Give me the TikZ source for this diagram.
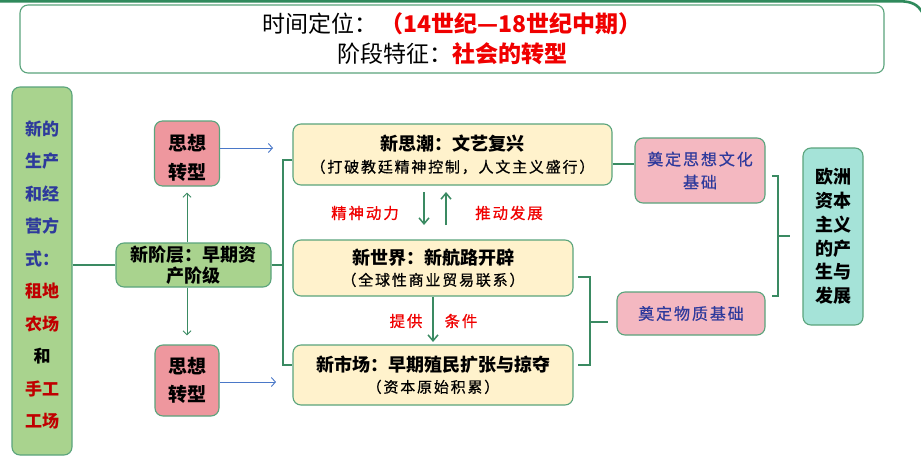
\documentclass[tikz,border=0pt]{standalone}
\usepackage{fontspec}
\setmainfont{Noto Sans CJK SC}
\newfontfamily\kai{Noto Sans CJK SC}[LetterSpace=12,FakeBold=0.6]
\usetikzlibrary{arrows.meta,calc}
\definecolor{framegreen}{HTML}{2F8A5C}
\definecolor{bordergreen}{HTML}{5AA47C}
\definecolor{linegreen}{HTML}{3A8A62}
\definecolor{lgreen}{HTML}{A9D38E}
\definecolor{pinka}{HTML}{EE979E}
\definecolor{pinkb}{HTML}{F4B8C1}
\definecolor{lyellow}{HTML}{FFF2CC}
\definecolor{lteal}{HTML}{A5E3D8}
\definecolor{tblue}{HTML}{2E3A9C}
\definecolor{dred}{HTML}{C00000}
\definecolor{hred}{HTML}{F00000}
\definecolor{ablue}{HTML}{4A78C8}
\begin{document}
\begin{tikzpicture}[x=1pt,y=-1pt,
  box/.style={draw=bordergreen, line width=1.1pt, rounded corners=8pt, inner sep=0pt, align=center},
  conn/.style={draw=linegreen, line width=1.8pt},
  garrow/.style={draw=linegreen, line width=1.5pt, -{Straight Barb[length=6pt,width=10pt,line width=1.5pt]}},
  smarrow/.style={draw=linegreen, line width=1pt, -{Straight Barb[length=4pt,width=8pt]}},
  barrow/.style={draw=ablue, line width=0.9pt, -{Straight Barb[length=4pt,width=9pt]}},
  redlbl/.style={text=hred, inner sep=0pt, font=\kai\fontsize{15.5}{18}\selectfont},
  txt/.style={inner sep=0pt, align=center}]
\useasboundingbox (0,0) rectangle (921,474);
\fill[white] (0,0) rectangle (921,474);
% top frame line
\coordinate (fa) at (-2,1.3);
\coordinate (fb) at (900,1.3);
\coordinate (fc) at (922,12);
\draw[framegreen, line width=2.6pt] (fa) -- (fb) .. controls (912,1.3) and (918,5) .. (fc);

% header
\node[box, draw=bordergreen, fill=white, minimum width=864pt, minimum height=68pt,
      font=\fontsize{23}{30}\selectfont] (hdr) at (452,39)
  {时间定位：\hspace{3pt}{\color{hred}\bfseries （14世纪—18世纪中期）}\\
   阶段特征：{\color{hred}\bfseries 社会的转型}};

% left tall box
\node[box, fill=lgreen, minimum width=60pt, minimum height=368pt] (lbox) at (42,271) {};
\node[txt, font=\bfseries\fontsize{17}{32.5}\selectfont] (ltext) at (42,275)
  {\color{tblue}新的\\\color{tblue}生产\\\color{tblue}和经\\\color{tblue}营方\\\color{tblue}式：\\
   \color{dred}租地\\\color{dred}农场\\\color{black}和\\\color{dred}手工\\\color{dred}工场};

% new class
\node[box, fill=lgreen, minimum width=155pt, minimum height=44pt,
      font=\bfseries\fontsize{18}{21}\selectfont] (jc) at (193.5,265)
  {新阶层：早期资\\产阶级};

% thought boxes
\node[box, fill=pinka, minimum width=65pt, minimum height=65pt] (sx1) at (187,153.5) {};
\node[txt, font=\bfseries\fontsize{19}{29}\selectfont] (sx1t) at (187,158) {思想\\转型};
\node[box, fill=pinka, minimum width=64pt, minimum height=71pt,
      font=\bfseries\fontsize{19}{28}\selectfont] (sx2) at (187,380.5) {思想\\转型};

% middle column
\node[box, fill=lyellow, minimum width=319pt, minimum height=61pt,
      font=\fontsize{18}{22}\selectfont] (xsc) at (452.5,154.5)
  {{\bfseries 新思潮：文艺复兴}\\{\kai\fontsize{15}{22}\selectfont （打破教廷精神控制，人文主义盛行）}};
\node[box, fill=lyellow, minimum width=280pt, minimum height=56pt,
      font=\fontsize{18}{21}\selectfont] (xsj) at (433,268)
  {{\bfseries 新世界：新航路开辟}\\{\kai\fontsize{15}{21}\selectfont （全球性商业贸易联系）}};
\node[box, fill=lyellow, minimum width=280pt, minimum height=60pt,
      font=\fontsize{18}{21}\selectfont] (xsch) at (433,375)
  {{\bfseries 新市场：早期殖民扩张与掠夺}\\{\kai\fontsize{15}{21}\selectfont （资本原始积累）}};

% right column
\node[box, fill=pinkb, minimum width=130pt, minimum height=65pt, text=tblue,
      font=\kai\fontsize{16}{23}\selectfont] (dd1) at (700,170.5) {奠定思想文化\\基础};
\node[box, fill=pinkb, minimum width=148pt, minimum height=43pt, text=tblue,
      font=\kai\fontsize{16}{20}\selectfont] (dd2) at (691,313.5) {奠定物质基础};
\node[box, fill=lteal, minimum width=60pt, minimum height=177pt,
      font=\bfseries\fontsize{18}{23.8}\selectfont] (oz) at (833,236.5)
  {欧洲\\资本\\主义\\的产\\生与\\发展};

% connectors: left box to new class
\draw[conn] (lbox.east |- jc.west) -- (jc.west);
% new class up/down to thought boxes
\draw[smarrow, shorten >=6pt] (sx1.south |- jc.north) -- (sx1.south);
\draw[smarrow, shorten >=9pt] (sx2.north |- jc.south) -- (sx2.north);
% blue arrows
\coordinate (b1) at (273,148);
\coordinate (b2) at (276,382);
\draw[barrow] (sx1.east |- b1) -- (b1);
\draw[barrow] (sx2.east |- b2) -- (b2);

% left bracket
\coordinate (lb0) at (283,265);
\coordinate (lb1) at (283,160);
\coordinate (lb2) at (283,365);
\draw[conn] (jc.east |- lb0) -- (lb0);
\draw[conn] (xsc.west |- lb1) -- (lb1) -- (lb2) -- (xsch.west |- lb2);

% arrows between middle boxes
\coordinate (m1) at (424,192);
\coordinate (m2) at (424,225);
\coordinate (m3) at (446,225);
\coordinate (m4) at (446,192);
\draw[garrow] (m1) -- (m2);
\draw[garrow] (m3) -- (m4);
\coordinate (m5) at (433,342);
\draw[garrow] (xsj.south) -- (m5);

\node[redlbl] (l1) at (365,213) {精神动力};
\node[redlbl] (l2) at (509,213) {推动发展};
\node[redlbl] (l3) at (406,321) {提供};
\node[redlbl] (l4) at (461,321) {条件};

% 新思潮 to 奠定思想文化基础
\coordinate (c1) at (620,164);
\draw[conn] (xsc.east |- c1) -- (dd1.west |- c1);

% right bracket 1
\coordinate (r1a) at (578,277);
\coordinate (r1b) at (590,277);
\coordinate (r1c) at (590,365);
\coordinate (r1d) at (578,365);
\coordinate (r1m) at (590,322);
\coordinate (r1e) at (608,322);
\draw[conn] (r1a) -- (r1b) -- (r1c) -- (r1d);
\draw[conn] (r1m) -- (r1e);

% right bracket 2
\coordinate (r2a) at (772,176);
\coordinate (r2b) at (778,176);
\coordinate (r2c) at (778,296);
\coordinate (r2d) at (772,296);
\coordinate (r2m) at (778,236);
\coordinate (r2e) at (790,236);
\draw[conn] (r2a) -- (r2b) -- (r2c) -- (r2d);
\draw[conn] (r2m) -- (r2e);
\end{tikzpicture}
\end{document}
